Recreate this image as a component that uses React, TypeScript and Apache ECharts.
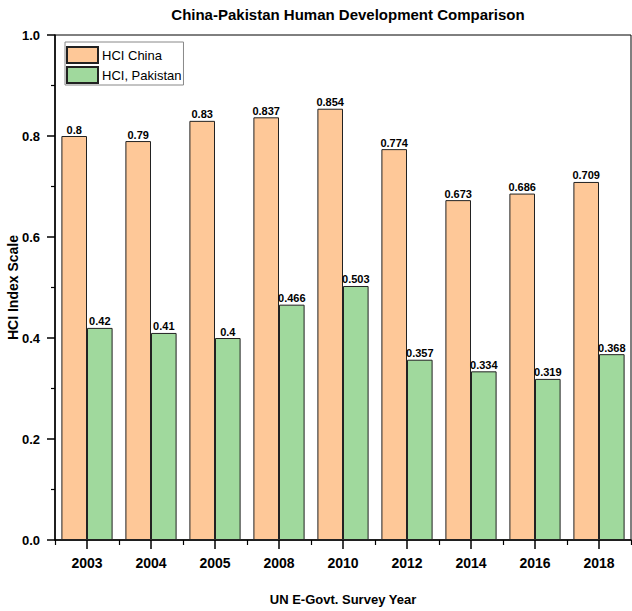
import React, { useEffect, useRef } from "react";
import * as echarts from "echarts";

const categories = ["2003", "2004", "2005", "2008", "2010", "2012", "2014", "2016", "2018"];
const chinaValues = [0.8, 0.79, 0.83, 0.837, 0.854, 0.774, 0.673, 0.686, 0.709];
const pakistanValues = [0.42, 0.41, 0.4, 0.466, 0.503, 0.357, 0.334, 0.319, 0.368];
const seriesNames = ["HCI China", "HCI, Pakistan"];

const FONT = "Liberation Sans";

export default function App() {
  const ref = useRef<HTMLDivElement>(null);
  useEffect(() => {
    if (!ref.current) return;
    const chart = echarts.init(ref.current, undefined, { renderer: "svg" });
    const labelStyle = {
      show: true,
      position: "top",
      distance: 1,
      fontFamily: FONT,
      fontWeight: "bold",
      fontSize: 11,
      color: "#000",
    };
    chart.setOption({
      animation: false,
      title: {
        text: "China-Pakistan Human Development Comparison",
        left: 343,
        textAlign: "center",
        top: 2,
        textStyle: { fontFamily: FONT, fontWeight: "bold", fontSize: 15, color: "#000" },
      },
      legend: {
        orient: "vertical",
        left: 65,
        top: 42,
        itemWidth: 31,
        itemHeight: 16,
        itemGap: 2,
        padding: [4, 2, 1, 1],
        borderColor: "#888",
        borderWidth: 1,
        icon: "rect",
        textStyle: { fontFamily: FONT, fontSize: 13, color: "#000", padding: [0, 0, 0, -1] },
        data: seriesNames,
      },
      grid: {
        left: 55,
        right: 1,
        top: 35,
        bottom: 71,
        show: true,
        borderColor: "#000",
        borderWidth: 1,
        backgroundColor: "transparent",
        containLabel: false,
        outerBoundsMode: "none",
      },
      xAxis: [
        {
          type: "category",
          data: categories,
          name: "UN E-Govt. Survey Year",
          nameLocation: "middle",
          nameGap: 53,
          nameMoveOverlap: false,
          nameTextStyle: { fontFamily: FONT, fontWeight: "bold", fontSize: 13, color: "#000" },
          axisLine: { show: true, lineStyle: { color: "#000", width: 1.5 } },
          axisTick: { show: true, alignWithLabel: true, length: 9, lineStyle: { color: "#000", width: 1.5 } },
          axisLabel: { fontFamily: FONT, fontWeight: "bold", fontSize: 14, color: "#000", margin: 16 },
          splitLine: { show: false },
        },
        {
          type: "category",
          data: categories,
          position: "bottom",
          axisLine: { show: false },
          axisTick: { show: true, alignWithLabel: false, length: 5, lineStyle: { color: "#000", width: 1.2 } },
          axisLabel: { show: false },
          splitLine: { show: false },
        },
      ],
      yAxis: {
        type: "value",
        min: 0,
        max: 1,
        interval: 0.2,
        name: "HCI Index Scale",
        nameLocation: "middle",
        nameGap: 35,
        nameMoveOverlap: false,
        nameTextStyle: { fontFamily: FONT, fontWeight: "bold", fontSize: 14, color: "#000" },
        axisLine: { show: true, lineStyle: { color: "#000", width: 1.5 } },
        axisTick: { show: true, length: 8, lineStyle: { color: "#000", width: 1.5 } },
        minorTick: { show: true, splitNumber: 2, length: 4, lineStyle: { color: "#000", width: 1.2 } },
        axisLabel: {
          fontFamily: FONT,
          fontWeight: "bold",
          fontSize: 13,
          color: "#000",
          margin: 15,
          formatter: (v: number) => v.toFixed(1),
        },
        splitLine: { show: false },
        minorSplitLine: { show: false },
      },
      series: [
        {
          name: seriesNames[0],
          type: "bar",
          xAxisIndex: 0,
          data: chinaValues,
          barGap: "0%",
          barCategoryGap: "20%",
          itemStyle: { color: "#FEC898", borderColor: "#222", borderWidth: 1 },
          label: labelStyle,
        },
        {
          name: seriesNames[1],
          type: "bar",
          xAxisIndex: 0,
          data: pakistanValues,
          barGap: "0%",
          barCategoryGap: "20%",
          itemStyle: { color: "#A0D99D", borderColor: "#222", borderWidth: 1 },
          label: labelStyle,
        },
      ],
    });
    return () => chart.dispose();
  }, []);
  return <div ref={ref} style={{ width: 632, height: 611, position: "absolute", left: 0, top: 0, background: "#fff" }} />;
}
